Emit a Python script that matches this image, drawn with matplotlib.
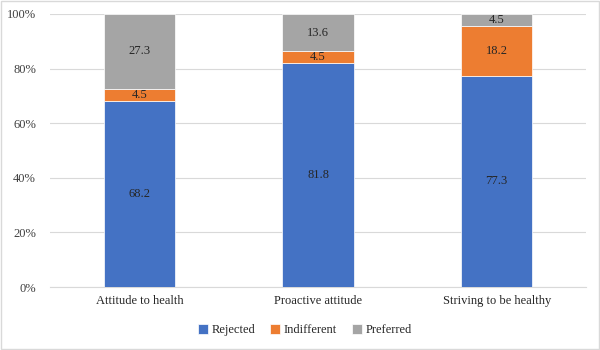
import matplotlib
matplotlib.use("Agg")
import matplotlib.pyplot as plt
import numpy as np
from matplotlib.patches import Rectangle

categories = ["Attitude to health", "Proactive attitude", "Striving to be healthy"]
series_names = ["Rejected", "Indifferent", "Preferred"]
rejected = [68.2, 81.8, 77.3]
indifferent = [4.5, 4.5, 18.2]
preferred = [27.3, 13.6, 4.5]
colors = ["#4472C4", "#ED7D31", "#A5A5A5"]

plt.rcParams['font.family'] = ['Liberation Serif', 'DejaVu Serif']
FS = 9

fig = plt.figure(figsize=(6, 3.5), dpi=100)
ax = fig.add_axes([50/600, 63/350, 536/600, 273/350])

data = np.array([rejected, indifferent, preferred])
totals = data.sum(axis=0)
pct = data / totals * 100
x = np.arange(len(categories))
bottom = np.zeros(len(categories))
for i, name in enumerate(series_names):
    bars = ax.bar(x, pct[i], 0.4, bottom=bottom, color=colors[i], label=name,
                  edgecolor='white', linewidth=0.5, zorder=3)
    for j, b in enumerate(bars):
        ax.text(b.get_x() + b.get_width()/2, bottom[j] + pct[i][j]/2,
                f"{data[i][j]:.1f}", ha='center', va='center', fontsize=FS,
                color='#262626', zorder=4)
    bottom += pct[i]

ax.set_xlim(-0.5, 2.5)
ax.set_ylim(0, 100)
ax.set_yticks(np.arange(0, 101, 20))
ax.set_yticklabels([f"{v}%" for v in range(0, 101, 20)], fontsize=FS, color='#404040')
ax.set_xticks(x)
ax.set_xticklabels(categories, fontsize=FS, color='#262626')
ax.grid(axis='y', color='#D9D9D9', linewidth=0.8, zorder=0)
for s in ['top', 'right', 'left']:
    ax.spines[s].set_visible(False)
ax.spines['bottom'].set_color('#D9D9D9')
ax.tick_params(axis='both', length=0, pad=6)
ax.tick_params(axis='y', pad=10)

leg = fig.legend(loc='center', bbox_to_anchor=(305/600, 1 - 330/350), ncol=3,
                 frameon=False, fontsize=FS,
                 handlelength=0.8, handleheight=0.8,
                 columnspacing=1.2, handletextpad=0.3)
for t in leg.get_texts():
    t.set_color('#262626')
    t.set_fontfamily(['Liberation Serif', 'DejaVu Serif'])

fig.patches.append(Rectangle((0.002, 0.002), 0.996, 0.996, transform=fig.transFigure,
                             fill=False, edgecolor='#D9D9D9', linewidth=1))

fig.savefig("out.png", dpi=100)
